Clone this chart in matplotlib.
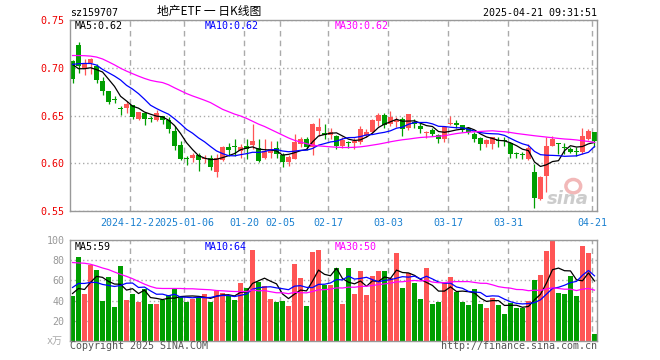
import matplotlib
matplotlib.use("Agg")
import numpy as np
import pandas as pd
import matplotlib.pyplot as plt
from matplotlib.patches import Ellipse

# daily candles, 2024-12-09 .. 2025-04-21 (88 trading days)
opens = [0.7066, 0.7243, 0.7000, 0.7045, 0.7017, 0.6861, 0.6753, 0.6668, 0.6575, 0.6583,
         0.6615, 0.6462, 0.6531, 0.6463, 0.6451, 0.6500, 0.6448, 0.6337, 0.6195, 0.6045,
         0.6056, 0.6090, 0.6042, 0.6056, 0.5913, 0.6035, 0.6174, 0.6168, 0.6132, 0.6177,
         0.6191, 0.6160, 0.6056, 0.6108, 0.6160, 0.6085, 0.6017, 0.6045, 0.6198, 0.6253,
         0.6165, 0.6340, 0.6316, 0.6299, 0.6285, 0.6184, 0.6212, 0.6212, 0.6225, 0.6299,
         0.6330, 0.6444, 0.6507, 0.6412, 0.6427, 0.6462, 0.6370, 0.6430, 0.6392, 0.6316,
         0.6347, 0.6299, 0.6253, 0.6408, 0.6420, 0.6400, 0.6365, 0.6306, 0.6264, 0.6201,
         0.6201, 0.6245, 0.6240, 0.6212, 0.6098, 0.6088, 0.6045, 0.5913, 0.5628, 0.5865,
         0.6184, 0.6212, 0.6162, 0.6150, 0.6117, 0.6115, 0.6253, 0.6323]
closes = [0.6880, 0.7017, 0.7045, 0.7087, 0.6872, 0.6757, 0.6642, 0.6665, 0.6572, 0.6625,
          0.6486, 0.6535, 0.6462, 0.6460, 0.6524, 0.6451, 0.6358, 0.6184, 0.6045, 0.6042,
          0.6090, 0.6038, 0.6056, 0.5965, 0.6060, 0.6174, 0.6142, 0.6165, 0.6167, 0.6146,
          0.6236, 0.6028, 0.6132, 0.6150, 0.6100, 0.6017, 0.6066, 0.6219, 0.6256, 0.6165,
          0.6410, 0.6375, 0.6299, 0.6323, 0.6184, 0.6247, 0.6209, 0.6228, 0.6358, 0.6330,
          0.6451, 0.6507, 0.6403, 0.6482, 0.6455, 0.6355, 0.6514, 0.6414, 0.6358, 0.6330,
          0.6306, 0.6253, 0.6375, 0.6412, 0.6400, 0.6350, 0.6330, 0.6253, 0.6201, 0.6243,
          0.6271, 0.6230, 0.6228, 0.6097, 0.6095, 0.6085, 0.6156, 0.5635, 0.5861, 0.6184,
          0.6253, 0.6201, 0.6159, 0.6122, 0.6114, 0.6281, 0.6340, 0.6236]
highs = [0.7080, 0.7267, 0.7094, 0.7097, 0.7035, 0.6906, 0.6760, 0.6700, 0.6600, 0.6653,
         0.6615, 0.6540, 0.6531, 0.6490, 0.6560, 0.6500, 0.6486, 0.6395, 0.6236, 0.6073,
         0.6108, 0.6108, 0.6087, 0.6087, 0.6097, 0.6180, 0.6215, 0.6253, 0.6200, 0.6250,
         0.6410, 0.6253, 0.6250, 0.6230, 0.6230, 0.6110, 0.6085, 0.6306, 0.6280, 0.6280,
         0.6420, 0.6472, 0.6410, 0.6365, 0.6300, 0.6270, 0.6236, 0.6262, 0.6385, 0.6355,
         0.6460, 0.6525, 0.6525, 0.6549, 0.6480, 0.6480, 0.6514, 0.6465, 0.6420, 0.6340,
         0.6365, 0.6305, 0.6385, 0.6493, 0.6455, 0.6400, 0.6365, 0.6325, 0.6270, 0.6253,
         0.6271, 0.6271, 0.6271, 0.6220, 0.6122, 0.6115, 0.6200, 0.5993, 0.5865, 0.6271,
         0.6290, 0.6212, 0.6212, 0.6168, 0.6168, 0.6365, 0.6355, 0.6323]
lows = [0.6844, 0.6948, 0.6924, 0.6934, 0.6840, 0.6715, 0.6618, 0.6632, 0.6503, 0.6531,
        0.6462, 0.6451, 0.6400, 0.6427, 0.6444, 0.6410, 0.6313, 0.6139, 0.6035, 0.5983,
        0.6010, 0.5924, 0.6000, 0.5934, 0.5861, 0.6020, 0.6080, 0.6080, 0.6060, 0.6045,
        0.6150, 0.6017, 0.6045, 0.6060, 0.6060, 0.5958, 0.5975, 0.6045, 0.6170, 0.6140,
        0.6090, 0.6288, 0.6253, 0.6253, 0.6150, 0.6160, 0.6160, 0.6150, 0.6200, 0.6280,
        0.6320, 0.6385, 0.6365, 0.6395, 0.6375, 0.6290, 0.6350, 0.6370, 0.6320, 0.6260,
        0.6290, 0.6210, 0.6220, 0.6400, 0.6365, 0.6330, 0.6310, 0.6220, 0.6135, 0.6170,
        0.6150, 0.6170, 0.6185, 0.6055, 0.6060, 0.6045, 0.6030, 0.5531, 0.5620, 0.5698,
        0.6180, 0.6100, 0.6100, 0.6105, 0.6080, 0.6100, 0.6245, 0.6167]
volumes = [45, 83, 47, 75, 70, 40, 63, 34, 74, 41,
           47, 39, 51, 37, 37, 41, 46, 51, 45, 39,
           42, 44, 47, 39, 50, 48, 45, 41, 57, 52,
           90, 58, 54, 42, 39, 40, 35, 76, 62, 35,
           88, 90, 55, 55, 72, 37, 72, 47, 69, 46,
           64, 69, 69, 62, 87, 52, 67, 57, 42, 72,
           37, 39, 57, 63, 49, 39, 36, 51, 37, 33,
           43, 36, 27, 38, 33, 33, 40, 60, 65, 89,
           99, 48, 47, 64, 45, 94, 87, 7]

ma5_head = [0.7035, 0.6990, 0.6990, 0.7000]
ma10_head = [0.7035, 0.7042, 0.7045, 0.7045, 0.7028, 0.6983, 0.6948, 0.6913, 0.6872]
ma30 = [0.7128, 0.7128, 0.7126, 0.7122, 0.7112, 0.7092, 0.7062, 0.7030, 0.6995, 0.6965,
        0.6938, 0.6912, 0.6888, 0.6868, 0.6855, 0.6845, 0.6822, 0.6790, 0.6760, 0.6730,
        0.6705, 0.6683, 0.6660, 0.6635, 0.6600, 0.6565, 0.6540, 0.6515, 0.6495, 0.6470,
        0.6440, 0.6410, 0.6385, 0.6355, 0.6325, 0.6295, 0.6265, 0.6240, 0.6222, 0.6205,
        0.6190, 0.6182, 0.6177, 0.6172, 0.6168, 0.6165, 0.6165, 0.6167, 0.6172, 0.6180,
        0.6190, 0.6200, 0.6212, 0.6225, 0.6236, 0.6246, 0.6253, 0.6262, 0.6270, 0.6274,
        0.6278, 0.6284, 0.6288, 0.6300, 0.6311, 0.6319, 0.6325, 0.6330, 0.6333, 0.6337,
        0.6340, 0.6334, 0.6330, 0.6322, 0.6312, 0.6304, 0.6296, 0.6288, 0.6281, 0.6274,
        0.6267, 0.6260, 0.6254, 0.6250, 0.6244, 0.6236, 0.6228, 0.6218]
vma5_head = [47, 52, 51, 58]
vma10_head = [53, 57, 57, 58, 58, 56, 55, 54, 55]
vma30_head = [77.7, 77.3, 77.0, 76.0, 74.3, 72.3, 70.7, 68.3, 66.0, 64.0,
              61.7, 59.0, 56.3, 54.0, 52.3, 52.0, 52.0, 52.0, 52.0, 51.7,
              51.7, 51.3, 51.0, 50.7, 50.0, 49.7, 49.3, 49.0, 49.0]

tick_idx = [10, 19, 29, 35, 43, 53, 63, 73, 87]
tick_labels = ["2024-12-23", "2025-01-06", "01-20", "02-05", "02-17",
               "03-03", "03-17", "03-31", "04-21"]
price_ticks = [0.55, 0.60, 0.65, 0.70, 0.75]
vol_ticks = [20, 40, 60, 80, 100]

RED = "#ff5555"
GREEN = "#009e00"
MONO = "DejaVu Sans Mono"
CJK = ["Noto Sans CJK SC", "DejaVu Sans"]
FS = 7.2

W, H = 660, 360


def box(x0, y0, x1, y1):
    return [x0 / W, 1 - y1 / H, (x1 - x0) / W, (y1 - y0) / H]


def rolling(vals, n, head):
    out = pd.Series(vals, dtype=float).rolling(n).mean().to_numpy()
    out[:n - 1] = head
    return out


o = np.array(opens); c = np.array(closes)
hi = np.array(highs); lo = np.array(lows)
vol = np.array(volumes, dtype=float)
idx = np.arange(len(c))
cols = np.where(c > o, RED, GREEN)

fig = plt.figure(figsize=(6.6, 3.6), dpi=100)
ax = fig.add_axes(box(70, 20, 597, 211))
axv = fig.add_axes(box(70, 240, 597, 341))

for a in (ax, axv):
    a.set_xlim(-0.42, len(c) - 0.58)
    a.set_xticks([i - 0.42 for i in tick_idx])
    a.grid(axis="x", color="#aaaaaa", linestyle=(0, (4, 3)), linewidth=1)
    a.grid(axis="y", color="#aaaaaa", linestyle=(0, (1, 2)), linewidth=1)
    a.set_axisbelow(True)
    for s in a.spines.values():
        s.set_color("#999999")
        s.set_linewidth(1)
    a.tick_params(length=0)

# sina watermark (behind the candles)
ax.add_patch(Ellipse((0.955, 0.13), 0.028, 0.07, transform=ax.transAxes,
                     facecolor="none", edgecolor="#f2b8b8", linewidth=2.5, zorder=0.5))
ax.text(0.985, 0.065, "sina", transform=ax.transAxes, ha="right", va="center",
        fontsize=13, fontweight="bold", style="italic", color="#cccccc", zorder=0.6)

# price panel
ax.vlines(idx, lo, hi, colors=cols, linewidth=0.9)
ax.bar(idx, np.maximum(np.abs(c - o), 0.0011), bottom=np.minimum(o, c),
       width=0.83, color=cols, linewidth=0)
ax.plot(idx, rolling(c, 5, ma5_head), color="black", linewidth=0.9)
ax.plot(idx, rolling(c, 10, ma10_head), color="#0000ff", linewidth=0.9)
ax.plot(idx, ma30, color="#ff00ff", linewidth=0.9)
ax.set_ylim(0.55, 0.75)
ax.set_yticks(price_ticks)
ax.set_yticklabels([f"{v:.2f}" for v in price_ticks], color="#ee0000",
                   family=MONO, fontsize=FS)
ax.tick_params(axis="y", pad=4)
ax.set_xticklabels(tick_labels, color="#1a80d0", family=MONO, fontsize=FS)
ax.tick_params(axis="x", pad=5)
for lbl in ax.get_xticklabels():
    lbl.set_bbox(dict(facecolor="white", edgecolor="none", pad=0))

# volume panel
axv.bar(idx, vol, width=0.83, color=cols, linewidth=0)
axv.plot(idx, rolling(vol, 5, vma5_head), color="black", linewidth=0.9)
axv.plot(idx, rolling(vol, 10, vma10_head), color="#0000ff", linewidth=0.9)
axv.plot(idx, rolling(vol, 30, vma30_head), color="#ff00ff", linewidth=0.9)
axv.set_ylim(0, 100)
axv.set_yticks(vol_ticks)
axv.set_yticklabels([str(v) for v in vol_ticks], color="#999999",
                    family=MONO, fontsize=FS)
axv.tick_params(axis="y", pad=4)
axv.set_xticklabels([])


def ftext(x, y, s, **kw):
    kw.setdefault("family", MONO)
    kw.setdefault("fontsize", FS)
    kw.setdefault("va", "center")
    fig.text(x / W, 1 - y / H, s, **kw)


ftext(70, 13, "sz159707")
ftext(209, 12, "地产ETF 一 日K线图", ha="center", family=CJK, fontsize=8.5)
ftext(597, 13, "2025-04-21 09:31:51", ha="right")

ftext(75, 26, "MA5:0.62")
ftext(205, 26, "MA10:0.62", color="#0000ff")
ftext(335, 26, "MA30:0.62", color="#ff00ff")
ftext(75, 247, "MA5:59")
ftext(205, 247, "MA10:64", color="#0000ff")
ftext(335, 247, "MA30:50", color="#ff00ff")

ftext(63, 341, "x万", ha="right", family=[MONO, "Noto Sans CJK SC"], color="#aaaaaa")
ftext(70, 346, "Copyright 2025 SINA.COM", color="#555555")
ftext(597, 346, "http://finance.sina.com.cn", ha="right", color="#555555")

fig.savefig("out.png", dpi=100)
